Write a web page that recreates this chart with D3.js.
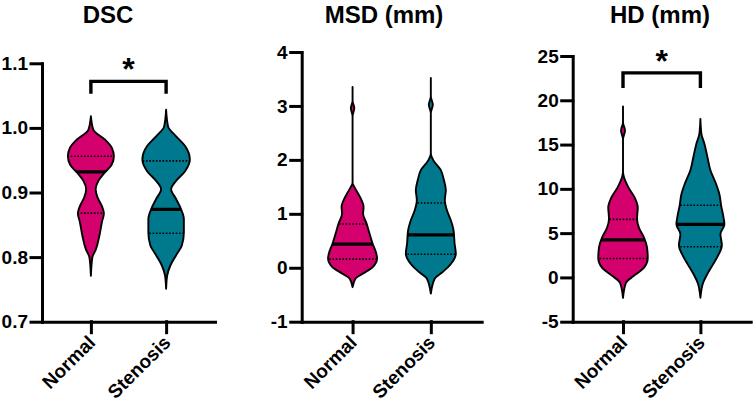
<!DOCTYPE html>
<html>
<head>
<meta charset="utf-8">
<script src="https://cdn.jsdelivr.net/npm/d3@7"></script>
<style>
  html, body { margin: 0; padding: 0; background: #fff; }
  svg { display: block; }
</style>
</head>
<body>
<script>
// groups and panels
const categories = ["Normal", "Stenosis"];
const panelTitles = ["DSC", "MSD (mm)", "HD (mm)"];

// y axis ticks per panel
const dscTicks = [0.7, 0.8, 0.9, 1.0, 1.1];
const msdTicks = [-1, 0, 1, 2, 3, 4];
const hdTicks = [-5, 0, 5, 10, 15, 20, 25];

// violin outlines: [value, relative density]
const dscNormal = [[1.018,0],[0.997,0.10],[0.982,0.56],[0.969,0.84],[0.956,0.92],[0.943,0.83],[0.931,0.56],[0.918,0.30],[0.905,0.19],[0.892,0.27],[0.879,0.44],[0.868,0.52],[0.854,0.44],[0.833,0.34],[0.812,0.20],[0.800,0.06],[0.771,0]];
const dscStenosis = [[1.028,0],[1.002,0.08],[0.987,0.40],[0.972,0.76],[0.951,0.95],[0.933,0.76],[0.918,0.40],[0.905,0.20],[0.890,0.40],[0.874,0.60],[0.859,0.71],[0.838,0.71],[0.818,0.63],[0.803,0.40],[0.787,0.17],[0.771,0.04],[0.751,0]];
const msdNormal = [[3.35,0],[3.09,0],[2.96,0.07],[2.81,0],[1.57,0],[1.50,0.07],[1.31,0.30],[1.13,0.44],[1.00,0.42],[0.82,0.56],[0.63,0.68],[0.45,0.80],[0.26,0.95],[0.17,0.98],[0.01,0.80],[-0.11,0.40],[-0.20,0.12],[-0.36,0]];
const msdStenosis = [[3.52,0],[3.18,0],[3.02,0.08],[2.87,0],[2.12,0],[2.00,0.09],[1.81,0.40],[1.63,0.52],[1.44,0.60],[1.25,0.56],[1.07,0.64],[0.88,0.80],[0.69,0.91],[0.45,0.95],[0.26,1.00],[0.07,0.80],[-0.08,0.47],[-0.20,0.16],[-0.48,0]];
const hdNormal = [[19.3,0],[17.5,0],[16.6,0.08],[15.6,0],[11.9,0],[11.3,0.04],[10.2,0.21],[9.0,0.47],[7.9,0.59],[6.6,0.56],[5.6,0.64],[4.5,0.84],[3.4,0.96],[2.2,0.99],[1.1,0.84],[0.15,0.42],[-0.6,0.12],[-2.3,0]];
const hdStenosis = [[17.9,0],[16.2,0.04],[15.1,0.16],[13.6,0.28],[12.1,0.40],[10.6,0.62],[9.4,0.76],[8.1,0.83],[7.0,0.91],[6.0,0.96],[4.9,0.80],[3.6,0.86],[2.6,0.73],[1.5,0.51],[0.34,0.27],[-0.6,0.11],[-2.3,0]];

// medians and quartiles [Q1, Q3] per group
const dscMedians = [0.932, 0.874];
const dscQuartiles = [[0.868, 0.956], [0.837, 0.949]];
const msdMedians = [0.44, 0.61];
const msdQuartiles = [[0.16, 0.81], [0.25, 1.20]];
const hdMedians = [4.24, 6.0];
const hdQuartiles = [[2.14, 6.55], [3.47, 8.15]];

// significance brackets: [leg bottom, bar] in data units, null = none
const dscBracket = [1.053, 1.072];
const msdBracket = null;
const hdBracket = [21.4, 23.1];

const colors = ["#D4006E", "#00798E"];

const width = 754, height = 411;
const axisBottomY = 321.7;
const layout = [
  { left: 42, right: 215, top: 63.3, titleX: 108, fmt: d => d.toFixed(1) },
  { left: 301.7, right: 481.7, top: 52, titleX: 384, fmt: d => String(d) },
  { left: 572.7, right: 750.7, top: 56, titleX: 660, fmt: d => String(d) }
];

const panels = [
  { ticks: dscTicks, profiles: [dscNormal, dscStenosis], medians: dscMedians, quartiles: dscQuartiles, bracket: dscBracket },
  { ticks: msdTicks, profiles: [msdNormal, msdStenosis], medians: msdMedians, quartiles: msdQuartiles, bracket: msdBracket },
  { ticks: hdTicks, profiles: [hdNormal, hdStenosis], medians: hdMedians, quartiles: hdQuartiles, bracket: hdBracket }
];

const font = "'Liberation Sans', Arial, Helvetica, sans-serif";

const svg = d3.select("body").append("svg")
    .attr("width", width)
    .attr("height", height)
    .style("background", "#fff");

const w = d3.scaleLinear().domain([0, 1]).range([0, 25]);

panels.forEach(function(p, i) {
  const L = layout[i];
  const g = svg.append("g");

  const y = d3.scaleLinear()
      .domain([p.ticks[0], p.ticks[p.ticks.length - 1]])
      .range([axisBottomY, L.top]);
  const x = d3.scalePoint()
      .domain(categories)
      .range([L.left, L.right])
      .padding(0.65);

  // title
  g.append("text")
      .attr("x", L.titleX)
      .attr("y", 22.5)
      .attr("text-anchor", "middle")
      .style("font-family", font)
      .style("font-weight", "bold")
      .style("font-size", "24px")
      .text(panelTitles[i]);

  // violins
  categories.forEach(function(c, j) {
    const cx = x(c);
    const area = d3.area()
        .curve(d3.curveMonotoneY)
        .y(d => y(d[0]))
        .x0(d => cx - w(d[1]))
        .x1(d => cx + w(d[1]));
    const dPath = area(p.profiles[j]);
    const clipId = "clip-" + i + "-" + j;

    g.append("clipPath").attr("id", clipId)
      .append("path").attr("d", dPath);

    g.append("path")
        .attr("d", dPath)
        .attr("fill", colors[j])
        .attr("stroke", "none");

    const inner = g.append("g").attr("clip-path", "url(#" + clipId + ")");
    p.quartiles[j].forEach(function(q) {
      inner.append("line")
          .attr("x1", cx - 30).attr("x2", cx + 30)
          .attr("y1", y(q)).attr("y2", y(q))
          .attr("stroke", "#000")
          .attr("stroke-width", 1.6)
          .attr("stroke-dasharray", "1.6,1.7");
    });
    inner.append("line")
        .attr("x1", cx - 30).attr("x2", cx + 30)
        .attr("y1", y(p.medians[j])).attr("y2", y(p.medians[j]))
        .attr("stroke", "#000")
        .attr("stroke-width", 3.2);

    g.append("path")
        .attr("d", dPath)
        .attr("fill", "none")
        .attr("stroke", "#000")
        .attr("stroke-width", 1.9)
        .attr("stroke-linejoin", "round");
  });

  // significance bracket
  if (p.bracket) {
    const x1 = x(categories[0]), x2 = x(categories[1]);
    g.append("path")
        .attr("d", d3.line()([[x1, y(p.bracket[0])], [x1, y(p.bracket[1])], [x2, y(p.bracket[1])], [x2, y(p.bracket[0])]]))
        .attr("fill", "none")
        .attr("stroke", "#000")
        .attr("stroke-width", 3.4)
        .attr("stroke-linejoin", "miter");
    g.append("text")
        .attr("x", (x1 + x2) / 2)
        .attr("y", y(p.bracket[1]) - 1)
        .attr("text-anchor", "middle")
        .style("font-family", font)
        .style("font-weight", "bold")
        .style("font-size", "32px")
        .text("*");
  }

  // y axis
  const yAxis = g.append("g")
      .attr("transform", "translate(" + L.left + ",0)")
      .call(d3.axisLeft(y).tickValues(p.ticks).tickSize(11).tickSizeOuter(0).tickPadding(3).tickFormat(L.fmt));

  // x axis
  const xAxis = g.append("g")
      .attr("transform", "translate(0," + axisBottomY + ")")
      .call(d3.axisBottom(x).tickSize(11).tickSizeOuter(0));
  xAxis.selectAll(".tick text")
      .attr("x", 5)
      .attr("y", 22)
      .attr("dy", 0)
      .attr("text-anchor", "end")
      .attr("transform", "rotate(-45, 5, 22)");

  [yAxis, xAxis].forEach(function(a) {
    a.attr("font-family", null).attr("font-size", null);
    a.selectAll("path, line")
        .attr("stroke", "#000")
        .attr("stroke-width", 3)
        .attr("stroke-linecap", "square");
    a.selectAll("text")
        .attr("fill", "#000")
        .style("font-family", font)
        .style("font-weight", "bold")
        .style("font-size", "19px");
  });
});
</script>
</body>
</html>
